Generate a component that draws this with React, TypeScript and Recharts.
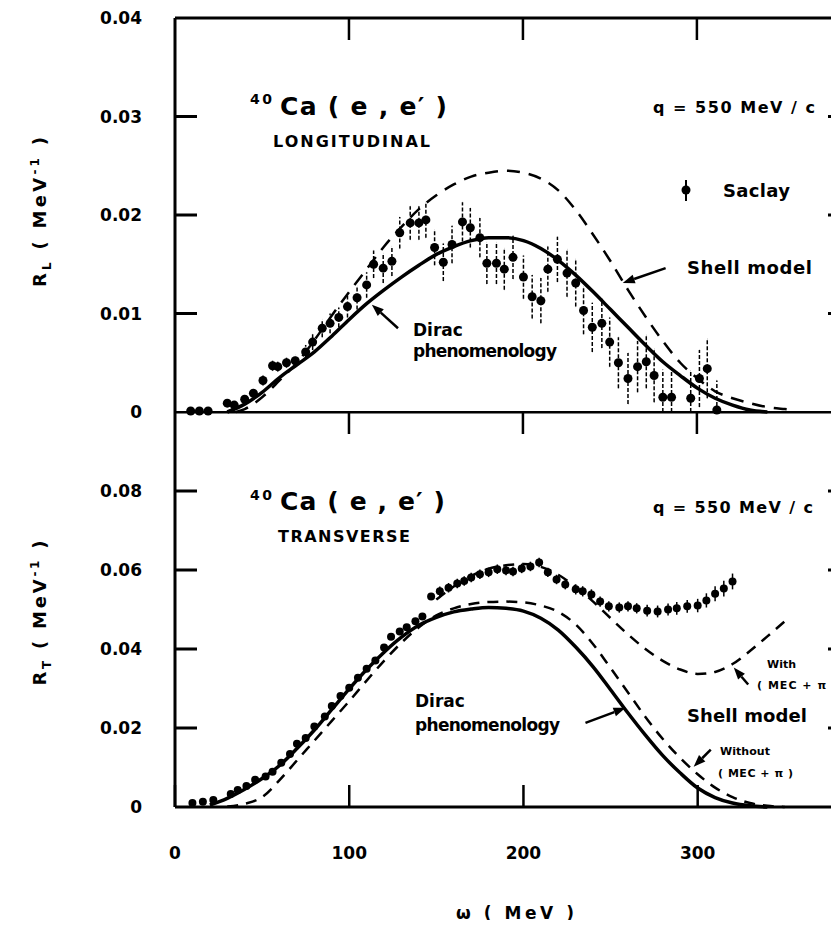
import React from 'react';
import { ComposedChart, Line, Scatter, ErrorBar, XAxis, YAxis, ReferenceLine } from 'recharts';

// omega (MeV) axis
const xTicks = [0, 100, 200, 300];
const xTickLabels = ['0', '100', '200', '300'];
const xInnerTicks = [100, 200, 300];

// R_L panel
const topYTicks = [0, 0.01, 0.02, 0.03, 0.04];
const topYLabels = ['0', '0.01', '0.02', '0.03', '0.04'];
const topInnerTicks = [0.01, 0.02, 0.03];

// Saclay longitudinal data
const topOmega = [9, 14, 19, 30, 34, 40, 45, 50.5, 56, 59, 64, 69, 75, 79, 84.5, 89, 94, 99, 104.5, 110, 114, 119.5, 124.5, 129, 135, 140, 144, 149, 154, 159, 165, 169.5, 175, 179, 184.5, 189, 194, 200, 205, 210, 214, 219.5, 225, 230, 234.5, 239.5, 245, 249.5, 254.5, 260, 265.5, 270.5, 275, 280, 285, 296, 301, 305.5, 311];
const topRL = [0.0001, 0.0001, 0.0001, 0.0009, 0.0007, 0.0013, 0.0019, 0.0032, 0.0047, 0.0046, 0.005, 0.0052, 0.0061, 0.0071, 0.0085, 0.009, 0.0096, 0.0107, 0.0116, 0.0129, 0.015, 0.0146, 0.0153, 0.0182, 0.0192, 0.0192, 0.0195, 0.0167, 0.0152, 0.017, 0.0193, 0.0187, 0.0177, 0.0151, 0.0151, 0.0145, 0.0157, 0.0137, 0.0117, 0.0113, 0.0145, 0.0155, 0.0141, 0.0131, 0.0103, 0.0086, 0.009, 0.0071, 0.005, 0.0034, 0.0046, 0.0051, 0.0037, 0.0015, 0.0015, 0.0014, 0.0034, 0.0044, 0.0002];
const topErr = [0, 0, 0, 0.0003, 0.0003, 0.0004, 0.0004, 0.0005, 0.0005, 0.0005, 0.0005, 0.0006, 0.0007, 0.0008, 0.0009, 0.001, 0.001, 0.0011, 0.0012, 0.0013, 0.0014, 0.0015, 0.0015, 0.0016, 0.0017, 0.0017, 0.0018, 0.0018, 0.0019, 0.0019, 0.002, 0.002, 0.002, 0.0021, 0.0021, 0.0021, 0.0022, 0.0022, 0.0022, 0.0023, 0.0023, 0.0023, 0.0024, 0.0024, 0.0024, 0.0025, 0.0025, 0.0025, 0.0026, 0.0026, 0.0026, 0.0027, 0.0027, 0.0028, 0.0028, 0.0028, 0.0029, 0.003, 0.003];

// Dirac phenomenology, longitudinal
const diracLOmega = [30, 40, 50, 60, 70, 80, 90, 100, 110, 120, 130, 140, 150, 160, 170, 180, 190, 200, 210, 220, 230, 240, 250, 260, 270, 280, 290, 300, 310, 320, 330, 340];
const diracL = [0, 0.0008, 0.002, 0.0035, 0.0048, 0.0061, 0.0077, 0.0094, 0.011, 0.0124, 0.0137, 0.0149, 0.016, 0.0168, 0.0174, 0.0177, 0.0177, 0.0174, 0.0166, 0.0154, 0.0139, 0.0122, 0.0104, 0.0086, 0.0068, 0.0051, 0.0037, 0.0024, 0.0014, 0.0007, 0.0002, 0];

// Shell model, longitudinal
const shellLOmega = [35, 40, 50, 60, 70, 80, 90, 100, 110, 120, 130, 140, 150, 160, 170, 180, 190, 200, 210, 220, 230, 240, 250, 260, 270, 280, 290, 300, 310, 320, 330, 340, 350, 356];
const shellL = [0, 0.0003, 0.0015, 0.0032, 0.005, 0.0073, 0.0098, 0.0122, 0.0145, 0.0168, 0.0188, 0.0206, 0.022, 0.0231, 0.0239, 0.0243, 0.0245, 0.0243, 0.0237, 0.0225, 0.0205, 0.018, 0.0153, 0.0124, 0.0097, 0.0072, 0.005, 0.0034, 0.0021, 0.0014, 0.0009, 0.0005, 0.0003, 0.0002];

// R_T panel
const botYTicks = [0, 0.02, 0.04, 0.06, 0.08];
const botYLabels = ['0', '0.02', '0.04', '0.06', '0.08'];
const botInnerTicks = [0.02, 0.04, 0.06, 0.08];

// Saclay transverse data
const botOmega = [10, 16, 22, 32, 36, 41, 46, 52, 56, 61, 66, 70, 75, 80, 86, 90, 95, 100, 105, 110, 115, 120, 124, 129, 133, 138, 142, 147, 152, 157, 162, 166, 170, 175, 180, 185, 190, 194, 199, 204, 209, 214, 219, 224, 230, 234, 239, 244, 249, 255, 260, 265, 271, 277, 283, 288, 294, 300, 305, 310, 315, 320];
const botRT = [0.001, 0.0013, 0.0018, 0.0033, 0.0043, 0.0053, 0.0069, 0.0077, 0.0089, 0.0112, 0.0134, 0.016, 0.0175, 0.0204, 0.0229, 0.0256, 0.0281, 0.0302, 0.0327, 0.035, 0.0371, 0.0404, 0.0431, 0.0444, 0.0455, 0.047, 0.0482, 0.0533, 0.0546, 0.0555, 0.0566, 0.0572, 0.0581, 0.0589, 0.0594, 0.0602, 0.0599, 0.0596, 0.0604, 0.0609, 0.0619, 0.0594, 0.0576, 0.0563, 0.0551, 0.0546, 0.0538, 0.052, 0.0508, 0.0505, 0.0508, 0.0503, 0.0497, 0.0495, 0.05, 0.0503, 0.0508, 0.051, 0.0523, 0.054, 0.0553, 0.0571];
const botErr = [0.0005, 0.0005, 0.0005, 0.0005, 0.0005, 0.0005, 0.0005, 0.0005, 0.0005, 0.0005, 0.0005, 0.0005, 0.0008, 0.0008, 0.0008, 0.0008, 0.0008, 0.0008, 0.0008, 0.0008, 0.0008, 0.0008, 0.0008, 0.0008, 0.0008, 0.0008, 0.0008, 0.0008, 0.0012, 0.0012, 0.0012, 0.0012, 0.0012, 0.0012, 0.0012, 0.0012, 0.0012, 0.0012, 0.0012, 0.0012, 0.0012, 0.0012, 0.0012, 0.0012, 0.0013, 0.0013, 0.0013, 0.0013, 0.0013, 0.0013, 0.0013, 0.0013, 0.0015, 0.0015, 0.0015, 0.0016, 0.0016, 0.0017, 0.0018, 0.0019, 0.002, 0.002];

// Dirac phenomenology, transverse
const diracTOmega = [20, 30, 40, 50, 60, 70, 80, 90, 100, 110, 120, 130, 140, 150, 160, 170, 180, 190, 200, 210, 220, 230, 240, 250, 260, 270, 280, 290, 300, 310, 320, 330, 340];
const diracT = [0.0005, 0.0022, 0.0045, 0.0072, 0.0105, 0.0148, 0.0195, 0.0247, 0.0299, 0.0348, 0.0392, 0.043, 0.046, 0.048, 0.0494, 0.0501, 0.0505, 0.0503, 0.0496, 0.0478, 0.0448, 0.0405, 0.0355, 0.0297, 0.0238, 0.0182, 0.013, 0.0086, 0.0048, 0.0024, 0.001, 0.0003, 0];

// Shell model without (MEC + pi)
const shellTOmega = [30, 40, 50, 60, 70, 80, 90, 100, 110, 120, 130, 140, 150, 160, 170, 180, 190, 200, 210, 220, 230, 240, 250, 260, 270, 280, 290, 300, 310, 320, 330, 340, 350];
const shellT = [0.0001, 0.0008, 0.0025, 0.0068, 0.0118, 0.0168, 0.0218, 0.0268, 0.032, 0.037, 0.0416, 0.0455, 0.0485, 0.0503, 0.0514, 0.0519, 0.052, 0.0518, 0.051, 0.0494, 0.0462, 0.0412, 0.0352, 0.029, 0.0228, 0.0172, 0.0124, 0.0083, 0.0049, 0.0025, 0.001, 0.0003, 0];

// Shell model with (MEC + pi)
const shellMecOmega = [150, 160, 170, 180, 190, 200, 210, 220, 230, 240, 250, 260, 270, 280, 290, 300, 310, 320, 330, 340, 352];
const shellMec = [0.0525, 0.0558, 0.0585, 0.0603, 0.0612, 0.0615, 0.0608, 0.0588, 0.0557, 0.052, 0.0478, 0.0437, 0.04, 0.037, 0.0348, 0.0337, 0.0342, 0.0362, 0.0395, 0.0432, 0.0478];

// error bars are cut at the zero line (the frame)
const zip = (xs: number[], ys: number[], es?: number[]) =>
  xs.map((w, i) => {
    const e = es ? es[i] : 0;
    return { w, v: ys[i], e: [Math.min(e, ys[i]), e] };
  });

const topPts = zip(topOmega, topRL, topErr);
const botPts = zip(botOmega, botRT, botErr);

const FONT = '"DejaVu Sans", sans-serif';
const X_MAX = 388;
const TOP_Y_MAX = 0.04;
const BOT_Y_MAX = 0.1;

// plot boxes (same numbers as the chart margins below)
const PLOT_L = 175;
const PLOT_W = 675;
const TOP_Y0 = 18;
const TOP_H = 394;
const BOT_Y0 = 412;
const BOT_H = 395;
const TICK_PX = 22;

const px = (w: number) => PLOT_L + (w / X_MAX) * PLOT_W;
const py = (v: number, y0: number, h: number, max: number) => y0 + (1 - v / max) * h;

const frame = { stroke: '#000', strokeWidth: 3 };

const fmt = (ticks: number[], labels: string[]) => (v: number) => {
  const i = ticks.findIndex((t) => Math.abs(t - Number(v)) < 1e-9);
  return i >= 0 ? labels[i] : String(v);
};

const leftLabel = (ticks: number[], labels: string[]) => (p: any) => (
  <text x={p.x - 33} y={p.y} dy="0.36em" textAnchor="end" fontFamily={FONT} fontWeight="bold" fontSize={17} fill="#000">
    {fmt(ticks, labels)(p.payload.value)}
  </text>
);

const bottomLabel = (p: any) => (
  <text x={p.x} y={p.y + 22 + 46} dy="0.36em" textAnchor="middle" fontFamily={FONT} fontWeight="bold" fontSize={17} fill="#000">
    {fmt(xTicks, xTickLabels)(p.payload.value)}
  </text>
);

const Arrow = (p: any) => {
  const { x1, y1, x2, y2 } = p;
  const a = Math.atan2(y2 - y1, x2 - x1);
  const L = 12;
  const W = 4.5;
  const bx = x2 - L * Math.cos(a);
  const by = y2 - L * Math.sin(a);
  const pts = `${x2},${y2} ${bx - W * Math.sin(a)},${by + W * Math.cos(a)} ${bx + W * Math.sin(a)},${by - W * Math.cos(a)}`;
  return (
    <g>
      <line x1={x1} y1={y1} x2={bx} y2={by} stroke="#000" strokeWidth={2.5} />
      <polygon points={pts} fill="#000" />
    </g>
  );
};

const dot = (r: number) => (p: any) => <circle cx={p.cx} cy={p.cy} r={r} fill="#000" />;

// inward frame ticks as filled bars, placed from the tick arrays
const FrameTicks = ({ yInner, y0, h, max }: { yInner: number[]; y0: number; h: number; max: number }) => (
  <g>
    {yInner.map((v) => (
      <rect key={`l${v}`} x={PLOT_L} y={py(v, y0, h, max) - 1.5} width={TICK_PX} height={3} fill="#000" />
    ))}
    {yInner.map((v) => (
      <rect key={`r${v}`} x={PLOT_L + PLOT_W - TICK_PX} y={py(v, y0, h, max) - 1.5} width={TICK_PX} height={3} fill="#000" />
    ))}
    {xInnerTicks.map((w) => (
      <rect key={`t${w}`} x={px(w) - 1.25} y={y0} width={2.5} height={TICK_PX} fill="#000" />
    ))}
  </g>
);

const T = (props: any) => (
  <text fontFamily={FONT} fontWeight="bold" fill="#000" {...props} />
);

export default function App() {
  return (
    <div style={{ position: 'relative', width: 839, height: 928, margin: -8, overflow: 'hidden', background: '#fff' }}>
      {/* longitudinal panel: plot 175..850 x 18..412 */}
      <div style={{ position: 'absolute', left: 0, top: 0 }}>
        <ComposedChart width={851} height={430} margin={{ top: 17, right: 0, bottom: 18, left: 174 }}>
          <XAxis type="number" dataKey="w" orientation="top" domain={[0, X_MAX]} ticks={xInnerTicks} interval={0}
            height={1} tickSize={0} tickLine={false} axisLine={frame} tick={false} />
          <YAxis type="number" domain={[0, TOP_Y_MAX]} ticks={topYTicks} interval={0} width={1} tickSize={0} tickMargin={0}
            tickLine={false} axisLine={frame} tick={leftLabel(topYTicks, topYLabels)} />
          <Line data={zip(shellLOmega, shellL)} dataKey="v" type="monotone" stroke="#000" strokeWidth={2.5}
            strokeDasharray="13 9" dot={false} activeDot={false} isAnimationActive={false} />
          <Line data={zip(diracLOmega, diracL)} dataKey="v" type="monotone" stroke="#000" strokeWidth={3.5}
            dot={false} activeDot={false} isAnimationActive={false} />
          <Scatter data={topPts} dataKey="v" shape={dot(4.5)} isAnimationActive={false}>
            <ErrorBar dataKey="e" direction="y" width={0} stroke="#000" strokeWidth={1.5} strokeDasharray="4 2" isAnimationActive={false} />
          </Scatter>
          <ReferenceLine segment={[{ x: 128, y: 0.0085 }, { x: 113, y: 0.0109 }]} shape={Arrow} />
          <ReferenceLine segment={[{ x: 281.6, y: 0.0146 }, { x: 257, y: 0.0131 }]} shape={Arrow} />
        </ComposedChart>
      </div>

      {/* transverse panel: plot 175..850 x 412..807 */}
      <div style={{ position: 'absolute', left: 0, top: 411 }}>
        <ComposedChart width={851} height={456} margin={{ top: 0, right: 0, bottom: 0, left: 174 }}>
          <XAxis type="number" dataKey="w" orientation="bottom" domain={[0, X_MAX]} ticks={xTicks} interval={0}
            height={60} tickSize={-22} tickMargin={0} tickLine={{ stroke: '#000', strokeWidth: 2.5 }} axisLine={frame} tick={bottomLabel} />
          <XAxis xAxisId="t" type="number" dataKey="w" orientation="top" domain={[0, X_MAX]} ticks={xInnerTicks} interval={0}
            height={1} tickSize={0} tickLine={false} axisLine={frame} tick={false} />
          <YAxis type="number" domain={[0, BOT_Y_MAX]} ticks={botYTicks} interval={0} width={1} tickSize={0} tickMargin={0}
            tickLine={false} axisLine={frame} tick={leftLabel(botYTicks, botYLabels)} />
          <Line data={zip(shellTOmega, shellT)} dataKey="v" type="monotone" stroke="#000" strokeWidth={2.5}
            strokeDasharray="11 8" dot={false} activeDot={false} isAnimationActive={false} />
          <Line data={zip(shellMecOmega, shellMec)} dataKey="v" type="monotone" stroke="#000" strokeWidth={2.5}
            strokeDasharray="11 8" dot={false} activeDot={false} isAnimationActive={false} />
          <Line data={zip(diracTOmega, diracT)} dataKey="v" type="monotone" stroke="#000" strokeWidth={3.5}
            dot={false} activeDot={false} isAnimationActive={false} />
          <Scatter data={botPts} dataKey="v" shape={dot(4)} isAnimationActive={false}>
            <ErrorBar dataKey="e" direction="y" width={0} stroke="#000" strokeWidth={1.5} isAnimationActive={false} />
          </Scatter>
          <ReferenceLine segment={[{ x: 329, y: 0.031 }, { x: 320.7, y: 0.0353 }]} shape={Arrow} />
          <ReferenceLine segment={[{ x: 235.6, y: 0.0213 }, { x: 258.6, y: 0.0251 }]} shape={Arrow} />
          <ReferenceLine segment={[{ x: 307.5, y: 0.0145 }, { x: 297.7, y: 0.0102 }]} shape={Arrow} />
        </ComposedChart>
      </div>

      {/* frame ticks and text annotations */}
      <svg width={839} height={928} style={{ position: 'absolute', left: 0, top: 0, pointerEvents: 'none' }}>
        <FrameTicks yInner={topInnerTicks} y0={TOP_Y0} h={TOP_H} max={TOP_Y_MAX} />
        <FrameTicks yInner={botInnerTicks} y0={BOT_Y0} h={BOT_H} max={BOT_Y_MAX} />

        <T x={46} y={212} fontSize={18} textAnchor="middle" textLength={150} lengthAdjust="spacing" transform="rotate(-90 46 212)">
          R<tspan dy={5} fontSize={12}>L</tspan><tspan dy={-5}>{'  ( MeV'}</tspan><tspan dy={-7} fontSize={12}>-1</tspan><tspan dy={7}>{' )'}</tspan>
        </T>
        <T x={46} y={613} fontSize={18} textAnchor="middle" textLength={145} lengthAdjust="spacing" transform="rotate(-90 46 613)">
          R<tspan dy={5} fontSize={12}>T</tspan><tspan dy={-5}>{'  ( MeV'}</tspan><tspan dy={-7} fontSize={12}>-1</tspan><tspan dy={7}>{' )'}</tspan>
        </T>

        <T x={250} y={104} fontSize={14} textLength={22}>40</T>
        <T x={280} y={115} fontSize={25} textLength={167} lengthAdjust="spacing">{'Ca ( e , e\u2032 )'}</T>
        <T x={273} y={147} fontSize={16} textLength={157} lengthAdjust="spacing">LONGITUDINAL</T>
        <T x={653} y={113} fontSize={16} textLength={162} lengthAdjust="spacing">{'q  =  550 MeV / c'}</T>
        <line x1={686} y1={180} x2={686} y2={201} stroke="#000" strokeWidth={2} />
        <circle cx={686} cy={190} r={4.5} fill="#000" />
        <T x={723} y={197} fontSize={18} textLength={67}>Saclay</T>
        <T x={687} y={274} fontSize={18} textLength={125} lengthAdjust="spacing">{'Shell  model'}</T>
        <T x={413} y={336} fontSize={17}>Dirac</T>
        <T x={413} y={357} fontSize={17} textLength={144}>phenomenology</T>

        <T x={250} y={500} fontSize={14} textLength={22}>40</T>
        <T x={280} y={510} fontSize={25} textLength={165} lengthAdjust="spacing">{'Ca ( e , e\u2032 )'}</T>
        <T x={278} y={542} fontSize={16} textLength={132} lengthAdjust="spacing">TRANSVERSE</T>
        <T x={653} y={513} fontSize={16} textLength={160} lengthAdjust="spacing">{'q  =  550 MeV / c'}</T>
        <T x={767} y={668} fontSize={11}>With</T>
        <T x={757} y={689} fontSize={11} textLength={80} lengthAdjust="spacing">{'( MEC + \u03c0 )'}</T>
        <T x={687} y={722} fontSize={18} textLength={120} lengthAdjust="spacing">{'Shell  model'}</T>
        <T x={415} y={707} fontSize={17}>Dirac</T>
        <T x={415} y={731} fontSize={17} textLength={145}>phenomenology</T>
        <T x={720} y={755} fontSize={11} textLength={50}>Without</T>
        <T x={718} y={777} fontSize={11} textLength={75} lengthAdjust="spacing">{'( MEC + \u03c0 )'}</T>

        <T x={515} y={919} fontSize={17} textAnchor="middle" textLength={118} lengthAdjust="spacing">{'\u03c9  ( MeV )'}</T>
      </svg>
    </div>
  );
}
